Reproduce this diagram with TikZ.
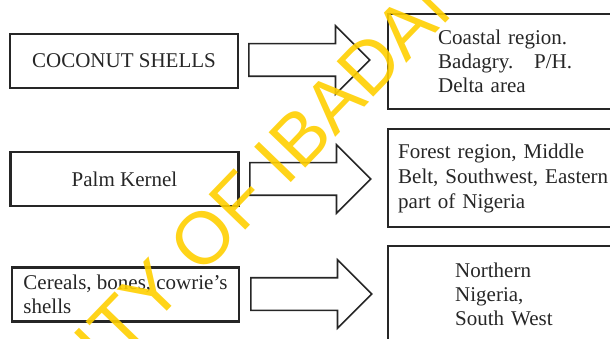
\documentclass[tikz,border=0pt]{standalone}
\usepackage{fontspec}
\setmainfont{Liberation Serif}
\newfontfamily\markfont{Liberation Sans}
\usetikzlibrary{shapes.arrows}
\definecolor{inkgrey}{HTML}{262626}
\definecolor{ibadanyellow}{HTML}{FFCF00}

\begin{document}
\begin{tikzpicture}[x=1pt,y=-1pt,
    srcbox/.style={draw=inkgrey, line width=2.4pt, minimum width=228pt, minimum height=54pt, text=inkgrey, font=\fontsize{21}{24}\selectfont},
    regionbox/.style={draw=inkgrey, line width=2.4pt, anchor=north west, minimum width=240pt, align=left, text=inkgrey, font=\fontsize{21}{24}\selectfont},
    fatarrow/.style={single arrow, draw=inkgrey, line width=1.6pt, anchor=tail, minimum height=121pt, inner xsep=0pt, inner ysep=15.5pt, single arrow head extend=18pt}]
  \useasboundingbox (0,0) rectangle (610,339);
  \clip (0,0) rectangle (610,339);
  % left: what is collected
  \node[srcbox] (coconut) at (124,61) {COCONUT SHELLS};
  \node[srcbox] (palmkernel) at (124.5,179) {Palm Kernel};
  \node[srcbox, minimum width=227pt, align=left] (cereals) at (125.5,294.5) {Cereals, bones, cowrie's\\shells};
  % block arrows
  \node[fatarrow] (arrcoconut) at (248,60) {};
  \node[fatarrow] (arrpalm) at (249,179) {};
  \node[fatarrow] (arrcereals) at (250,294) {};
  % right: where it is found
  \node[regionbox, minimum height=95pt, text width=140pt, inner xsep=50pt] (coastal) at (387,13) {Coastal region.\\Badagry.\ \ \ P/H.\\Delta area};
  \node[regionbox, minimum height=98pt, text width=220pt, inner xsep=10pt, font=\fontsize{21}{25}\selectfont] (forest) at (387,128) {Forest region, Middle\\Belt, Southwest, Eastern\\part of Nigeria};
  \node[regionbox, minimum height=96pt, text width=106pt, inner xsep=67pt] (northern) at (387,245) {Northern\\Nigeria,\\South West};
  % watermark
  \node[rotate=46, text=ibadanyellow, opacity=0.9, font=\markfont\fontsize{74}{74}\selectfont] (stamp) at (160,282) {UNIVERSITY OF IBADAN};
\end{tikzpicture}
\end{document}
